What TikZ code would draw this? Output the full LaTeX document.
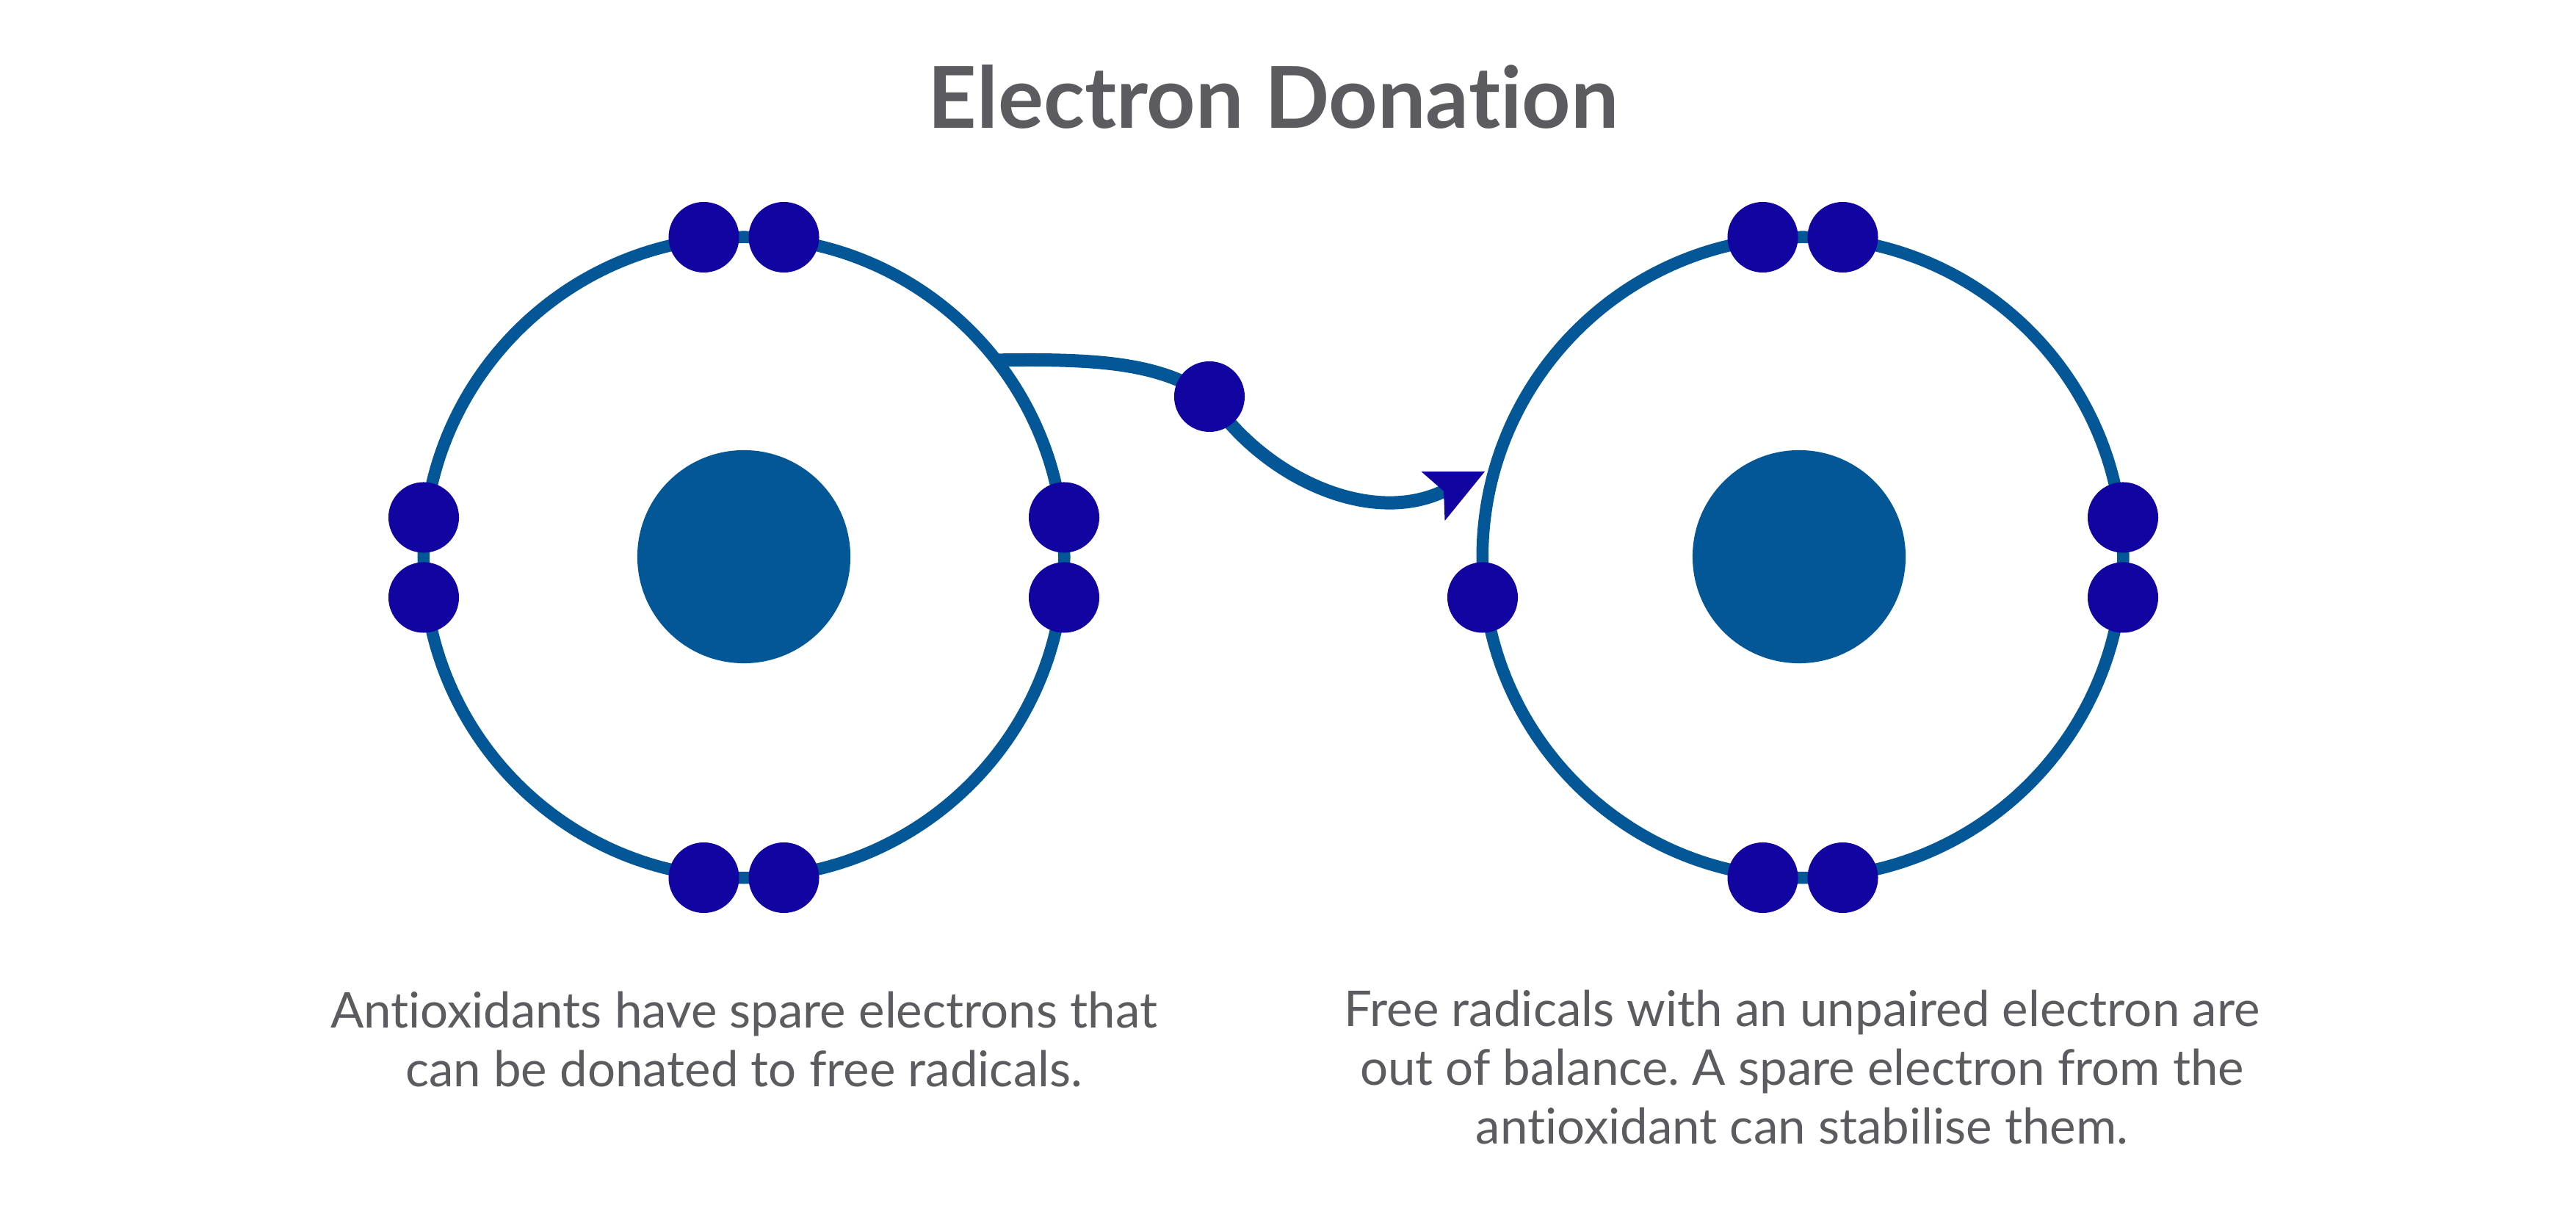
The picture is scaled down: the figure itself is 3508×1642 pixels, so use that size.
\documentclass[tikz,border=0pt]{standalone}
\usepackage{fontspec}
\setmainfont{Lato}[Ligatures=NoCommon]
\usetikzlibrary{arrows.meta}
\definecolor{orbitblue}{HTML}{035797}
\definecolor{elecblue}{HTML}{1104A0}
\definecolor{textgrey}{HTML}{5C5C60}
\frenchspacing
\begin{document}
\begin{tikzpicture}[x=0.01cm,y=0.01cm,
  orbit/.style={circle,draw=orbitblue,line width=0.165cm,minimum size=8.72cm,inner sep=0pt,outer sep=0pt},
  nucleus/.style={circle,fill=orbitblue,minimum size=2.9cm,inner sep=0pt},
  electron/.style={circle,fill=elecblue,minimum size=0.96cm,inner sep=0pt},
  caption/.style={align=center,text=textgrey,anchor=base,font=\fontsize{19.1}{22.8}\selectfont}]
\useasboundingbox (0,0) rectangle (3508,1642);

\node[anchor=base,text=textgrey,font=\fontsize{33}{39}\selectfont\bfseries] (title) at (1734,1467) {Electron Donation};

\node[orbit] (orbA) at (1013,883) {};
\node[nucleus] (nucA) at (1013,884) {};
\node[orbit] (orbF) at (2455,883) {};
\node[nucleus] (nucF) at (2450,884) {};

\coordinate (start) at (orbA.38.6);
\coordinate (tip) at (2022,1000);
\draw[line width=0.18cm,orbitblue,-{Stealth[length=0.78cm,width=0.74cm,inset=0.16cm,line width=0pt,color=elecblue]}]
  (start) .. controls (1500,1154) and (1580,1147) .. (1647,1102)
  .. controls (1720,992) and (1865,925) .. (tip);
\node[electron] (spare) at (1647,1102) {};

\begin{scope}[shift={(1013,883)}]
\foreach \p/\q [count=\i] in {-54.5/436,54.5/436,-54.5/-436,54.5/-436,-436/54.5,-436/-54.5,436/54.5,436/-54.5}{
\node[electron] (a\i) at (\p,\q) {};
}
\end{scope}

\begin{scope}[shift={(2455,883)}]
\foreach \p/\q [count=\i] in {-54.5/436,54.5/436,-54.5/-436,54.5/-436,-436/-54.5,436/54.5,436/-54.5}{
\node[electron] (f\i) at (\p,\q) {};
}
\end{scope}

\node[caption] (textA) at (1013,162) {Antioxidants have spare electrons that\\can be donated to free radicals.};
\node[caption] (textF) at (2454,84) {Free radicals with an unpaired electron are\\out of balance. A spare electron from the\\antioxidant can stabilise them.};
\end{tikzpicture}
\end{document}
